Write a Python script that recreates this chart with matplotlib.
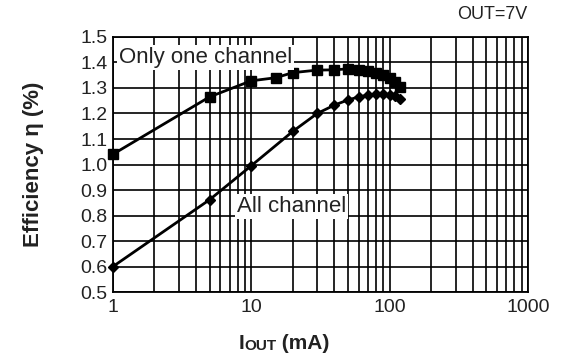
import numpy as np
import matplotlib.pyplot as plt
from matplotlib.ticker import FixedLocator, NullFormatter, LogLocator

plt.rcParams['font.family'] = ['Liberation Sans', 'DejaVu Sans']

# Output current (mA)
iout = [1, 5, 10, 15, 20, 30, 40, 50, 60, 70, 80, 90, 100, 110, 120]
iout_all = [1, 5, 10, 20, 30, 40, 50, 60, 70, 80, 90, 100, 110, 120]

# Efficiency (%)
eff_one = [1.04, 1.265, 1.328, 1.340, 1.360, 1.370, 1.371, 1.375, 1.372,
           1.366, 1.360, 1.350, 1.340, 1.325, 1.305]
eff_all = [0.60, 0.862, 0.995, 1.130, 1.200, 1.233, 1.253, 1.265, 1.272,
           1.276, 1.276, 1.274, 1.268, 1.256]

y_ticks = [0.5, 0.6, 0.7, 0.8, 0.9, 1.0, 1.1, 1.2, 1.3, 1.4, 1.5]
x_ticks = [1, 10, 100, 1000]

fig = plt.figure(figsize=(5.67, 3.62), dpi=100)
ax = fig.add_axes([0.199, 0.193, 0.732, 0.705])

ax.plot(iout, eff_one, color='black', lw=2, marker='s', ms=6.5, zorder=3,
        clip_on=False)
ax.plot(iout_all, eff_all, color='black', lw=2, marker='D', ms=5, zorder=3,
        clip_on=False)

ax.set_xscale('log')
ax.set_xlim(1, 1000)
ax.set_ylim(0.5, 1.5)
ax.xaxis.set_major_locator(FixedLocator(x_ticks))
ax.xaxis.set_minor_locator(LogLocator(base=10, subs=np.arange(2, 10)))
ax.xaxis.set_minor_formatter(NullFormatter())
ax.set_xticks(x_ticks)
ax.set_xticklabels([str(t) for t in x_ticks])
ax.set_yticks(y_ticks)
ax.set_yticklabels([f"{t:.1f}" for t in y_ticks])

ax.grid(True, which='both', color='black', lw=1.2)
ax.set_axisbelow(True)
ax.tick_params(which='both', length=0, labelsize=14, pad=4, colors='#222222')
ax.tick_params(axis='x', pad=5)
for s in ax.spines.values():
    s.set_linewidth(1.3)

ax.text(1.1, 1.42, "Only one channel", fontsize=16, va='center', ha='left',
        color='#222222',
        bbox=dict(facecolor='white', edgecolor='none', pad=1.5), zorder=4)
ax.text(7.9, 0.835, "All channel", fontsize=16, va='center', ha='left',
        color='#222222',
        bbox=dict(facecolor='white', edgecolor='none', pad=1.5), zorder=4)

fig.text(0.93, 0.96, "OUT=7V", fontsize=13, ha='right', va='center',
         color='#222222')

ax.set_ylabel("Efficiency η (%)", fontsize=16, fontweight='bold', labelpad=26,
              color='#222222')

# x label: "I" followed by small caps "OUT"
t1 = fig.text(0.42, 0.035, "I", fontsize=15, fontweight='bold', va='baseline',
              color='#222222')
t2 = ax.annotate("OUT", xy=(1, 0), xycoords=t1, fontsize=11, fontweight='bold',
                 va='bottom', ha='left', annotation_clip=False, color='#222222')
ax.annotate(" (mA)", xy=(1, 0), xycoords=t2, fontsize=15, fontweight='bold',
            va='bottom', ha='left', annotation_clip=False, color='#222222')

fig.savefig("out.png", dpi=100)
